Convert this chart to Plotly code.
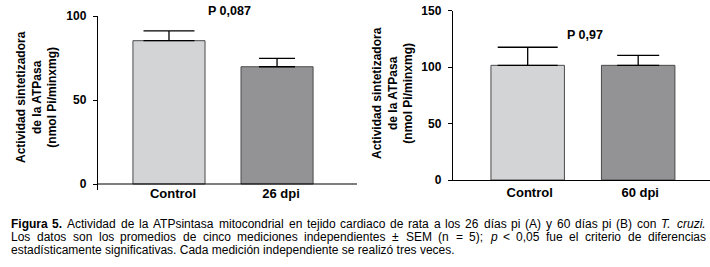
import plotly.graph_objects as go

# Data
cats_a = ["Control", "26 dpi"]
mean_a = [85.3, 69.8]
sem_a = [5.9, 5.0]
cats_b = ["Control", "60 dpi"]
mean_b = [101.6, 101.6]
sem_b = [16.0, 8.9]
p_a = "P 0,087"
p_b = "P 0,97"
yticks_a = [0, 50, 100]
yticks_b = [0, 50, 100, 150]

bar_colors = ["#d3d4d6", "#939396"]
cap_a = [25.5, 18]
cap_b = [30, 21]

W, H = 710, 267
FONT = "Liberation Sans, Arial, sans-serif"

fig = go.Figure()

for i in range(2):
    fig.add_trace(go.Bar(
        x=[cats_a[i]], y=[mean_a[i]], xaxis="x", yaxis="y",
        marker=dict(color=bar_colors[i], line=dict(color="#4a4a4a", width=1)),
        width=0.667,
        error_y=dict(type="data", symmetric=False, array=[sem_a[i]], arrayminus=[0],
                     color="black", thickness=1.3, width=cap_a[i]),
        showlegend=False, hoverinfo="skip"))
    fig.add_trace(go.Bar(
        x=[cats_b[i]], y=[mean_b[i]], xaxis="x2", yaxis="y2",
        marker=dict(color=bar_colors[i], line=dict(color="#4a4a4a", width=1)),
        width=0.665,
        error_y=dict(type="data", symmetric=False, array=[sem_b[i]], arrayminus=[0],
                     color="black", thickness=1.3, width=cap_b[i]),
        showlegend=False, hoverinfo="skip"))

def px_x(p):
    return p / W

def px_y(p):
    return 1 - p / H

tickfont = dict(family=FONT, size=12, color="black", weight="bold")
labfont = dict(family=FONT, size=13, color="black", weight="bold")

fig.update_layout(
    width=W, height=H, autosize=False,
    margin=dict(l=0, r=0, t=0, b=0, pad=0),
    paper_bgcolor="white", plot_bgcolor="white",
    bargap=0,
    xaxis=dict(domain=[px_x(98), px_x(357)], anchor="y", type="category",
               categoryorder="array", categoryarray=cats_a,
               range=[-0.657, 1.74], showline=False, ticks="",
               ticklabelstandoff=-6, ticklabelshift=4,
               tickfont=labfont, showgrid=False, zeroline=False, automargin=False),
    yaxis=dict(domain=[px_y(190), px_y(16)], anchor="x",
               range=[-100 * 6 / 168, 100], tickvals=yticks_a,
               showline=True, linecolor="black", linewidth=1.2,
               ticks="outside", ticklen=4, tickcolor="black", ticklabelstandoff=4,
               tickfont=tickfont, showgrid=False, zeroline=False, automargin=False),
    xaxis2=dict(domain=[px_x(453), 1.0], anchor="y2", type="category",
                categoryorder="array", categoryarray=cats_b,
                range=[-0.676, 1.65], showline=True, linecolor="black", linewidth=1.2,
                ticks="", ticklabelshift=2,
                tickfont=labfont, showgrid=False, zeroline=False, automargin=False),
    yaxis2=dict(domain=[px_y(180), px_y(10.7)], anchor="x2",
                range=[0, 150], tickvals=yticks_b,
                showline=True, linecolor="black", linewidth=1.2,
                ticks="outside", ticklen=4, tickcolor="black", ticklabelstandoff=4,
                tickfont=tickfont, showgrid=False, zeroline=False, automargin=False),
    font=dict(family=FONT, color="black"),
)

# x-axis baseline at y=0 on left chart (y axis extends a bit below it)
fig.add_shape(type="line", xref="x domain", yref="y", x0=0, x1=1, y0=0, y1=0,
              line=dict(color="black", width=1.2))

ytitle = "<b>Actividad sintetizadora<br>de la ATPasa<br>(nmol Pi/minxmg)</b>"
anns = [
    dict(text=ytitle, x=px_x(36), y=px_y(97), textangle=-90,
         font=dict(family=FONT, size=12, color="black")),
    dict(text=ytitle, x=px_x(393), y=px_y(93), textangle=-90,
         font=dict(family=FONT, size=12, color="black")),
    dict(text="<b>" + p_a + "</b>", x=px_x(229), y=px_y(11),
         font=dict(family=FONT, size=12.5, color="black")),
    dict(text="<b>" + p_b + "</b>", x=px_x(585), y=px_y(35),
         font=dict(family=FONT, size=12.5, color="black")),
]
for a in anns:
    fig.add_annotation(xref="paper", yref="paper", showarrow=False,
                       xanchor="center", yanchor="middle", **a)

# ---- caption (justified lines 1 and 2, word by word, Arial metrics) ----
REG = {" ": 278, "(": 333, ")": 333, ",": 278, ".": 278, ";": 278, "<": 584, "=": 584,
       "±": 584, "A": 667, "B": 667, "C": 722, "E": 667, "F": 611, "L": 556, "M": 833,
       "P": 667, "S": 667, "T": 611, "a": 556, "b": 556, "c": 500, "d": 556, "e": 556,
       "f": 278, "g": 556, "h": 556, "i": 222, "j": 222, "k": 500, "l": 222, "m": 833,
       "n": 556, "o": 556, "p": 556, "q": 556, "r": 333, "s": 500, "t": 278, "u": 556,
       "v": 500, "w": 722, "x": 500, "y": 500, "z": 500, "í": 278, "ó": 556}
for d in "0123456789":
    REG[d] = 556
BOLD = dict(REG)
BOLD.update({"F": 611, "i": 278, "g": 611, "u": 611, "r": 389, "a": 556})

def wwidth(w, bold, size):
    tab = BOLD if bold else REG
    return sum(tab.get(ch, 556) for ch in w) * size / 1000.0

CAP_SIZE = 12
CAP_X0, CAP_X1 = 11, 705.5
line1 = [("Figura", "b"), ("5.", "b")] + [(w, "") for w in
         "Actividad de la ATPsintasa mitocondrial en tejido cardiaco de rata a los 26 días pi (A) y 60 días pi (B) con".split()] \
        + [("T.", "i"), ("cruzi.", "i")]
line2 = [(w, "") for w in "Los datos son los promedios de cinco mediciones independientes ± SEM (n = 5);".split()] \
        + [("p", "i")] + [(w, "") for w in "< 0,05 fue el criterio de diferencias".split()]
line3 = "estadísticamente significativas. Cada medición independiente se realizó tres veces."

def place_justified(words, ypx):
    widths = [wwidth(w, s == "b", CAP_SIZE) for w, s in words]
    gap = (CAP_X1 - CAP_X0 - sum(widths)) / (len(words) - 1)
    x = CAP_X0
    n = len(words)
    for k, ((w, s), wd) in enumerate(zip(words, widths)):
        t = w.replace("<", "&lt;")
        if s == "b":
            t = "<b>" + t + "</b>"
        elif s == "i":
            t = "<i>" + t + "</i>"
        if k == n - 1:
            xa, xp = "right", CAP_X1 + 2
        else:
            xa, xp = "left", x - 2
        fig.add_annotation(xref="paper", yref="paper", showarrow=False,
                           x=px_x(xp), y=px_y(ypx), xanchor=xa, yanchor="middle",
                           text=t, font=dict(family=FONT, size=CAP_SIZE, color="black"))
        x += wd + gap

place_justified(line1, 223.5)
place_justified(line2, 236.5)
fig.add_annotation(xref="paper", yref="paper", showarrow=False,
                   x=px_x(CAP_X0 - 2), y=px_y(249.5), xanchor="left", yanchor="middle",
                   text=line3, font=dict(family=FONT, size=CAP_SIZE, color="black"))

fig.write_html("out.html",
               config={"displayModeBar": False, "staticPlot": True},
               post_script="document.body.style.margin='0';document.body.style.padding='0';")
